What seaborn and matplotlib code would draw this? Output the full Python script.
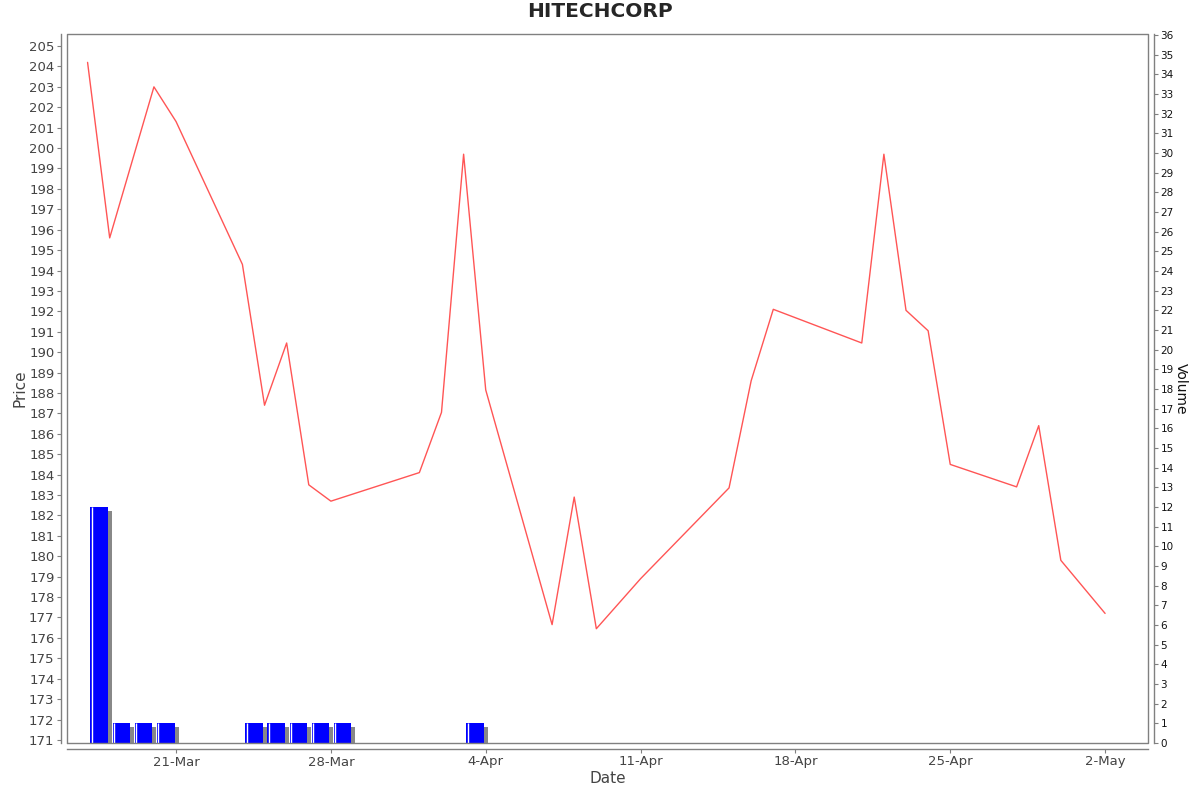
import pandas as pd
import numpy as np
import matplotlib
matplotlib.use("Agg")
import matplotlib.pyplot as plt
import matplotlib.dates as mdates
import matplotlib.transforms as mtransforms
import seaborn as sns

# price series (closing price per trading day)
price_dates = ["2025-03-17", "2025-03-18", "2025-03-20", "2025-03-21", "2025-03-24",
               "2025-03-25", "2025-03-26", "2025-03-27", "2025-03-28", "2025-04-01",
               "2025-04-02", "2025-04-03", "2025-04-04", "2025-04-07", "2025-04-08",
               "2025-04-09", "2025-04-11", "2025-04-15", "2025-04-16", "2025-04-17",
               "2025-04-21", "2025-04-22", "2025-04-23", "2025-04-24", "2025-04-25",
               "2025-04-28", "2025-04-29", "2025-04-30", "2025-05-02"]
price_values = [204.2, 195.6, 203.0, 201.3, 194.3,
                187.4, 190.45, 183.5, 182.7, 184.1,
                187.05, 199.7, 188.15, 176.65, 182.9,
                176.45, 178.9, 183.35, 188.6, 192.1,
                190.45, 199.7, 192.05, 191.05, 184.5,
                183.4, 186.4, 179.8, 177.2]

# volume bars (bar start day)
volume_dates = ["2025-03-17", "2025-03-18", "2025-03-19", "2025-03-20",
                "2025-03-24", "2025-03-25", "2025-03-26", "2025-03-27", "2025-03-28",
                "2025-04-03"]
volume_values = [12, 1, 1, 1, 1, 1, 1, 1, 1, 1]

tick_dates = ["2025-03-21", "2025-03-28", "2025-04-04", "2025-04-11",
              "2025-04-18", "2025-04-25", "2025-05-02"]
tick_labels = ["21-Mar", "28-Mar", "4-Apr", "11-Apr", "18-Apr", "25-Apr", "2-May"]

df = pd.DataFrame({"Date": pd.to_datetime(price_dates), "Price": price_values})
vol = pd.DataFrame({"Date": pd.to_datetime(volume_dates), "Volume": volume_values})

sns.set_style("white")
plt.rcParams["font.family"] = ["DejaVu Sans"]

W, H = 1200, 792
fig = plt.figure(figsize=(W / 100, H / 100), dpi=100)
ax = fig.add_axes([67 / W, (H - 743) / H, (1148 - 67) / W, (743 - 34) / H])
ax2 = ax.twinx()

grey = "#808080"

# volume on the right axis
vx = mdates.date2num(vol["Date"]) + 0.13
shadow = ax2.transData + mtransforms.ScaledTranslation(4 / 100, -4 / 100, fig.dpi_scale_trans)
ax2.bar(vx, vol["Volume"], width=0.8, align="edge", color="#888888",
        linewidth=0, transform=shadow, zorder=1)
ax2.bar(vx, vol["Volume"], width=0.8, align="edge", color="#0000ff",
        linewidth=0, zorder=2)
for x0, v in zip(vx, vol["Volume"]):
    ax2.plot([x0 + 0.07, x0 + 0.07], [0, v], color="white", lw=1.0, zorder=3,
             solid_capstyle="butt")

# price on the left axis, drawn on top
ax.set_zorder(ax2.get_zorder() + 1)
ax.patch.set_visible(False)
sns.lineplot(data=df, x="Date", y="Price", ax=ax, color="#ff5555", lw=1.0)

x_lo = mdates.date2num(pd.Timestamp("2025-03-21")) - 4.93
x_hi = mdates.date2num(pd.Timestamp("2025-03-21")) + 43.94
ax.set_xlim(x_lo, x_hi)
ax.set_ylim(170.85, 205.59)
ax2.set_ylim(0, 36.05)

ax.set_yticks(np.arange(171, 206, 1))
ax2.set_yticks(np.arange(0, 37, 1))
ax.set_xticks(mdates.date2num(pd.to_datetime(tick_dates)))
ax.set_xticklabels(tick_labels)

# frame: axis lines offset from the plot border
for a in (ax, ax2):
    for s in a.spines.values():
        s.set_color(grey)
        s.set_linewidth(1.0)
ax.spines["left"].set_position(("outward", 4))
ax.spines["bottom"].set_position(("outward", 4))
ax.spines["top"].set_visible(False)
ax.spines["right"].set_visible(False)
ax2.spines["right"].set_position(("outward", 4))
ax2.spines["left"].set_visible(False)
ax2.spines["bottom"].set_visible(False)
ax2.spines["top"].set_visible(False)
# inner plot border
ax2.plot([0, 1, 1, 0, 0], [0, 0, 1, 1, 0], transform=ax2.transAxes,
         color=grey, lw=1.0, clip_on=False, zorder=5)

ax.tick_params(axis="y", which="both", direction="out", length=3, width=0.8,
               color=grey, labelsize=9.5, labelcolor="#444444", pad=2, left=True)
ax.tick_params(axis="x", direction="out", length=3, width=0.8, color=grey,
               labelsize=9.5, labelcolor="#444444", pad=2, bottom=True)
ax2.tick_params(axis="y", direction="out", length=3, width=0.8, color=grey,
                labelsize=7.5, labelcolor="#111111", pad=2, right=True)

ax.set_xlabel("Date", fontsize=11, color="#444444", labelpad=2)
ax.set_ylabel("Price", fontsize=11, color="#444444", labelpad=1)
ax2.set_ylabel("Volume", fontsize=10, color="#111111", rotation=270, labelpad=10)

fig.suptitle("HITECHCORP", fontsize=14.5, fontweight="bold", y=0.998, va="top")

fig.savefig("out.png", dpi=100)
plt.close(fig)
